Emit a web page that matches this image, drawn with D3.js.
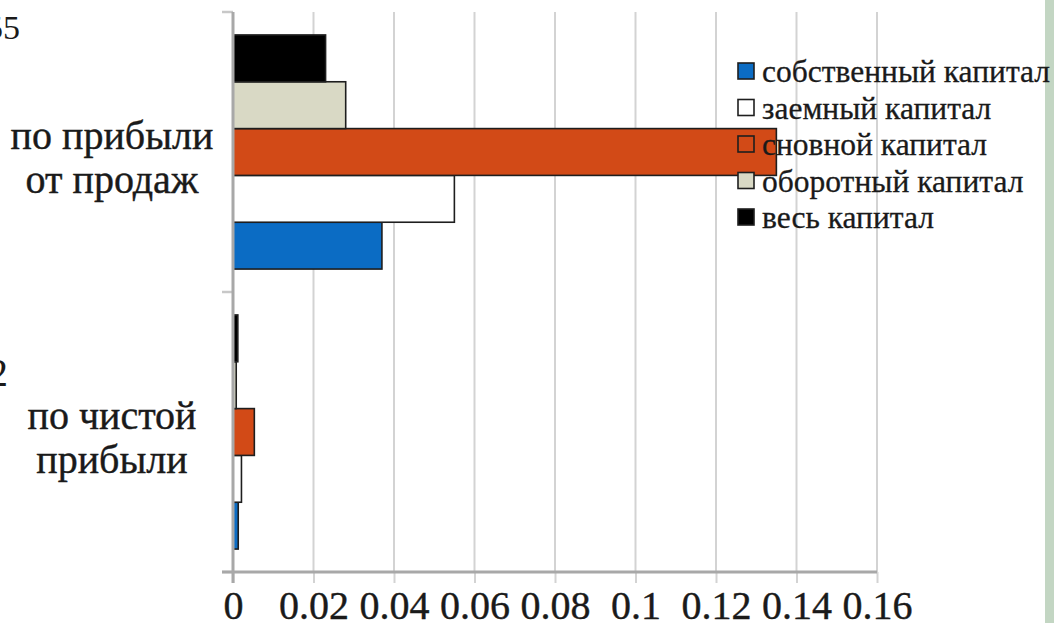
<!DOCTYPE html>
<html>
<head>
<meta charset="utf-8">
<script src="https://cdn.jsdelivr.net/npm/d3@7"></script>
</head>
<body style="margin:0; overflow:hidden">
<svg id="s" width="1054" height="623" font-family="Liberation Serif"></svg>
<script>
// Categories, top to bottom as drawn
const categories = ["по прибыли от продаж", "по чистой прибыли"];
const categoryLines = [["по прибыли", "от продаж"], ["по чистой", "прибыли"]];

// Series in legend order
const seriesNames = ["собственный капитал", "заемный капитал", "сновной капитал", "оборотный капитал", "весь капитал"];
const seriesColors = ["#0b6cc4", "#ffffff", "#d24a17", "#d9d9c5", "#000000"];

// Values per series: [по прибыли от продаж, по чистой прибыли]
const sobstvenny = [0.037, 0.0013];
const zaemny     = [0.055, 0.0021];
const osnovnoy   = [0.135, 0.0053];
const oborotny   = [0.028, 0.0008];
const ves        = [0.023, 0.0012];
const seriesValues = [sobstvenny, zaemny, osnovnoy, oborotny, ves];

const xTicks = [0, 0.02, 0.04, 0.06, 0.08, 0.1, 0.12, 0.14, 0.16];

const INK = "#1a1a1a";

const svg = d3.select("#s");

const plot = { left: 233, right: 877, top: 12, bottom: 572 };

const x = d3.scaleLinear().domain([0, 0.16]).range([plot.left, plot.right]);
const y = d3.scaleBand().domain(categories).range([plot.top, plot.bottom]).paddingInner(0).paddingOuter(0);
// first series sits at the bottom of each group
const yInner = d3.scaleBand()
  .domain(d3.range(seriesNames.length).reverse())
  .range([0, y.bandwidth()])
  .paddingInner(0)
  .paddingOuter(0.49);

// white background and green strip on the right edge
svg.append("rect").attr("width", 1054).attr("height", 623).attr("fill", "#ffffff");
svg.append("rect").attr("x", 1045).attr("y", 0).attr("width", 9).attr("height", 623).attr("fill", "#c3d6c3");

// vertical gridlines
svg.append("g")
  .selectAll("line")
  .data(xTicks.slice(1))
  .join("line")
  .attr("x1", d => x(d)).attr("x2", d => x(d))
  .attr("y1", plot.top).attr("y2", plot.bottom)
  .attr("stroke", "#d3d3d3").attr("stroke-width", 2);

// bottom axis with ticks extending below
const xAxis = d3.axisBottom(x)
  .tickValues(xTicks)
  .tickSize(11)
  .tickFormat(d => String(+d.toFixed(2)));
const gx = svg.append("g").attr("transform", `translate(0,${plot.bottom})`).call(xAxis);
gx.attr("font-family", "Liberation Serif").attr("font-size", 40);
gx.select(".domain").remove();
gx.selectAll(".tick line").attr("stroke", "#d3d3d3").attr("stroke-width", 2);
gx.selectAll(".tick text")
  .attr("dy", null)
  .attr("y", 47)
  .attr("font-family", "Liberation Serif")
  .attr("font-size", 40)
  .attr("fill", INK)
  .attr("stroke", INK)
  .attr("stroke-width", 0.4);

// left axis: category separators
const sepY = [plot.top, plot.top + y.bandwidth(), plot.bottom];
svg.append("g")
  .selectAll("line")
  .data(sepY)
  .join("line")
  .attr("x1", plot.left - 11).attr("x2", plot.left)
  .attr("y1", d => d).attr("y2", d => d)
  .attr("stroke", "#c8c8c8").attr("stroke-width", 2.5);

// bars
const groups = svg.append("g")
  .selectAll("g")
  .data(categories)
  .join("g")
  .attr("transform", c => `translate(0,${y(c)})`);

groups.selectAll("rect")
  .data((c, ci) => seriesValues.map((vals, si) => ({ si, v: vals[ci] })))
  .join("rect")
  .attr("x", x(0))
  .attr("y", d => yInner(d.si))
  .attr("width", d => x(d.v) - x(0))
  .attr("height", yInner.bandwidth())
  .attr("fill", d => seriesColors[d.si])
  .attr("stroke", "#1e1e1e")
  .attr("stroke-width", 1.6);

// axis lines
svg.append("line")
  .attr("x1", plot.left).attr("x2", plot.left)
  .attr("y1", plot.top).attr("y2", plot.bottom + 11)
  .attr("stroke", "#a8a8a8").attr("stroke-width", 3);
svg.append("line")
  .attr("x1", plot.left - 11).attr("x2", plot.right)
  .attr("y1", plot.bottom).attr("y2", plot.bottom)
  .attr("stroke", "#a8a8a8").attr("stroke-width", 3);

// category labels
categories.forEach((c, i) => {
  const cy = y(c) + y.bandwidth() / 2;
  categoryLines[i].forEach((line, li) => {
    svg.append("text")
      .attr("x", 112)
      .attr("y", cy - 3 + li * 44)
      .attr("text-anchor", "middle")
      .attr("font-family", "Liberation Serif")
      .attr("font-size", 40)
      .attr("fill", INK)
      .attr("stroke", INK)
      .attr("stroke-width", 0.4)
      .text(line);
  });
});

// clipped fragments of neighbouring labels at the left edge
svg.append("text").attr("x", 20).attr("y", 39).attr("text-anchor", "end")
  .attr("font-family", "Liberation Serif").attr("font-size", 34).attr("fill", INK).text("55");
svg.append("text").attr("x", 8).attr("y", 386).attr("text-anchor", "end")
  .attr("font-family", "Liberation Serif").attr("font-size", 40).attr("fill", INK).text("2");

// legend
const rowStep = 36.5;
seriesNames.forEach((name, i) => {
  const base = 82 + i * rowStep;
  svg.append("rect")
    .attr("x", 738).attr("y", base - 19)
    .attr("width", 16).attr("height", 16)
    .attr("fill", seriesColors[i])
    .attr("stroke", "#1e1e1e").attr("stroke-width", 1.6);
  svg.append("text")
    .attr("x", 762).attr("y", base)
    .attr("font-family", "Liberation Serif")
    .attr("font-size", 31.5)
    .attr("fill", INK)
    .attr("stroke", INK)
    .attr("stroke-width", 0.3)
    .text(name);
});
</script>
</body>
</html>
